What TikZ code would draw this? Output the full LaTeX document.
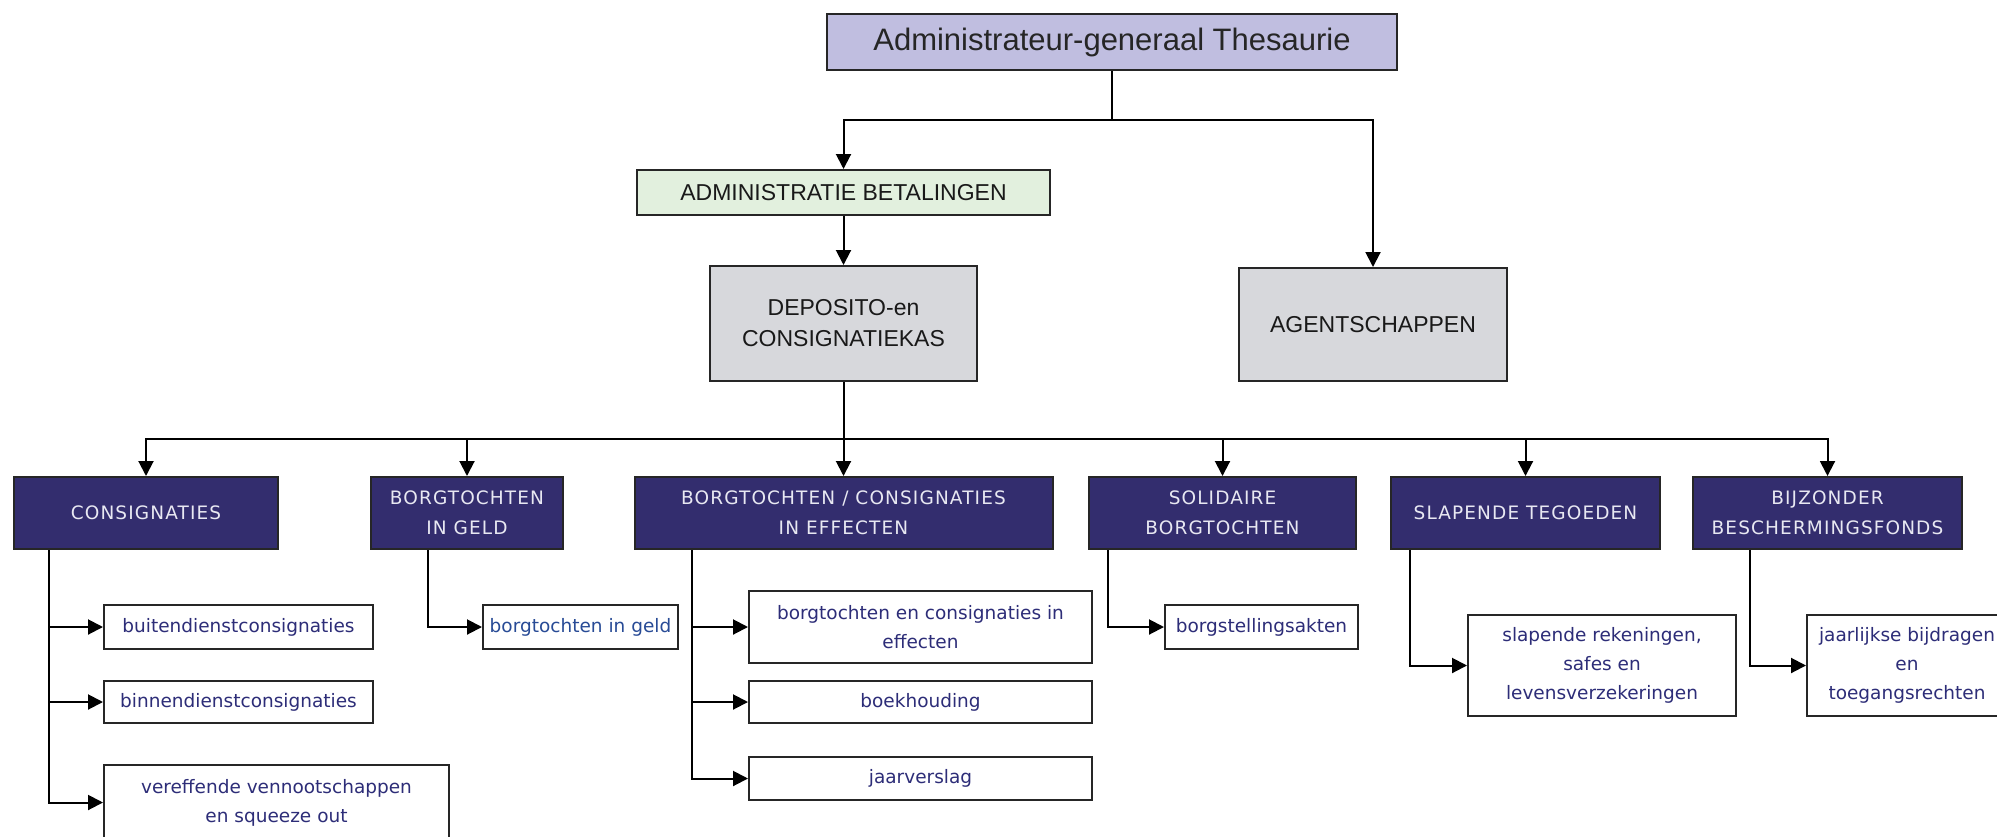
\documentclass[tikz,border=0pt]{standalone}
\usepackage{fontspec}
\setmainfont{Liberation Sans}
\newfontfamily\pixcaps[LetterSpace=6]{DejaVu Sans}
\newfontfamily\pixlow{DejaVu Sans}
\usetikzlibrary{arrows.meta}
\definecolor{topfill}{RGB}{192,190,224}
\definecolor{adminfill}{RGB}{226,240,222}
\definecolor{grayfill}{RGB}{215,216,220}
\definecolor{darkfill}{RGB}{51,45,110}
\definecolor{darktext}{RGB}{232,232,242}
\definecolor{subtext}{RGB}{45,45,120}
\definecolor{geldtext}{RGB}{40,75,150}
\tikzset{
  x=1pt, y=-1pt,
  boxbase/.style={draw=black!85, line width=2pt, inner sep=0pt, align=center, anchor=center},
  topbox/.style={boxbase, fill=topfill, font=\fontsize{31}{37}\selectfont, text=black!85},
  adminbox/.style={boxbase, fill=adminfill, font=\fontsize{23}{31}\selectfont, text=black!90},
  graybox/.style={boxbase, fill=grayfill, font=\fontsize{23}{31}\selectfont, text=black!90},
  darkbox/.style={boxbase, fill=darkfill, font=\pixcaps\fontsize{18.5}{30}\selectfont, text=darktext, minimum height=72pt},
  subbox/.style={boxbase, fill=white, font=\pixlow\fontsize{18.5}{29}\selectfont, text=subtext},
  conn/.style={line width=2pt, draw=black},
  arr/.style={conn, -{Triangle[width=15pt,length=15pt]}},
}
\begin{document}
\begin{tikzpicture}
\useasboundingbox (0,0) rectangle (1997,836);
\clip (0,0) rectangle (1997,836);
% level 0-2
\node[topbox, minimum width=570pt, minimum height=56pt] (top) at (1112,42) {Administrateur-generaal Thesaurie};
\node[adminbox, minimum width=413pt, minimum height=45pt] (admin) at (843.5,192.5) {ADMINISTRATIE BETALINGEN};
\node[graybox, minimum width=267pt, minimum height=115pt] (depo) at (843.5,323.5) {DEPOSITO-en\\CONSIGNATIEKAS};
\node[graybox, minimum width=268pt, minimum height=113pt] (agent) at (1373,324.5) {AGENTSCHAPPEN};
% level 3
\node[darkbox, minimum width=264pt] (c1) at (146,513) {CONSIGNATIES};
\node[darkbox, minimum width=192pt] (c2) at (467,513) {BORGTOCHTEN\\IN GELD};
\node[darkbox, minimum width=418pt] (c3) at (843.5,513) {BORGTOCHTEN / CONSIGNATIES\\IN EFFECTEN};
\node[darkbox, minimum width=267pt] (c4) at (1222.5,513) {SOLIDAIRE\\BORGTOCHTEN};
\node[darkbox, minimum width=269pt] (c5) at (1525.5,513) {SLAPENDE TEGOEDEN};
\node[darkbox, minimum width=269pt] (c6) at (1827.5,513) {BIJZONDER\\BESCHERMINGSFONDS};
% sub boxes
\node[subbox, minimum width=269pt, minimum height=44pt] (s11) at (238.5,627) {buitendienstconsignaties};
\node[subbox, minimum width=269pt, minimum height=42pt] (s12) at (238.5,702) {binnendienstconsignaties};
\node[subbox, minimum width=345pt, minimum height=75pt] (s13) at (276.5,802.5) {vereffende vennootschappen\\en squeeze out};
\node[subbox, minimum width=195pt, minimum height=44pt, text=geldtext] (s21) at (580.5,627) {borgtochten in geld};
\node[subbox, minimum width=343pt, minimum height=72pt] (s31) at (920.5,627) {borgtochten en consignaties in\\effecten};
\node[subbox, minimum width=343pt, minimum height=42pt] (s32) at (920.5,702) {boekhouding};
\node[subbox, minimum width=343pt, minimum height=43pt] (s33) at (920.5,778.5) {jaarverslag};
\node[subbox, minimum width=193pt, minimum height=44pt] (s41) at (1261.5,627) {borgstellingsakten};
\node[subbox, minimum width=268pt, minimum height=101pt] (s51) at (1602,665.5) {slapende rekeningen,\\safes en\\levensverzekeringen};
\node[subbox, minimum width=200pt, minimum height=101pt] (s61) at (1907,665.5) {jaarlijkse bijdragen\\en\\toegangsrechten};
% connectors top
\coordinate (j1) at (1112,120);
\draw[conn] (top.south) -- (j1);
\draw[arr] (j1) -| (admin.north);
\draw[arr] (j1) -| (agent.north);
\draw[arr] (admin.south) -- (depo.north);
% connectors to level 3
\coordinate (j2) at (843.5,439);
\draw[conn] (depo.south) -- (j2);
\foreach \n in {c1,c2,c3,c4,c5,c6} {\draw[arr] (j2) -| (\n.north);}
% level 3 to sub boxes
\draw[arr] ([xshift=36pt]c1.south west) |- (s11.west);
\draw[arr] ([xshift=36pt]c1.south west) |- (s12.west);
\draw[arr] ([xshift=36pt]c1.south west) |- (s13.west);
\draw[arr] ([xshift=58pt]c2.south west) |- (s21.west);
\draw[arr] ([xshift=58.5pt]c3.south west) |- (s31.west);
\draw[arr] ([xshift=58.5pt]c3.south west) |- (s32.west);
\draw[arr] ([xshift=58.5pt]c3.south west) |- (s33.west);
\draw[arr] ([xshift=20pt]c4.south west) |- (s41.west);
\draw[arr] ([xshift=20pt]c5.south west) |- (s51.west);
\draw[arr] ([xshift=58pt]c6.south west) |- (s61.west);
\end{tikzpicture}
\end{document}
